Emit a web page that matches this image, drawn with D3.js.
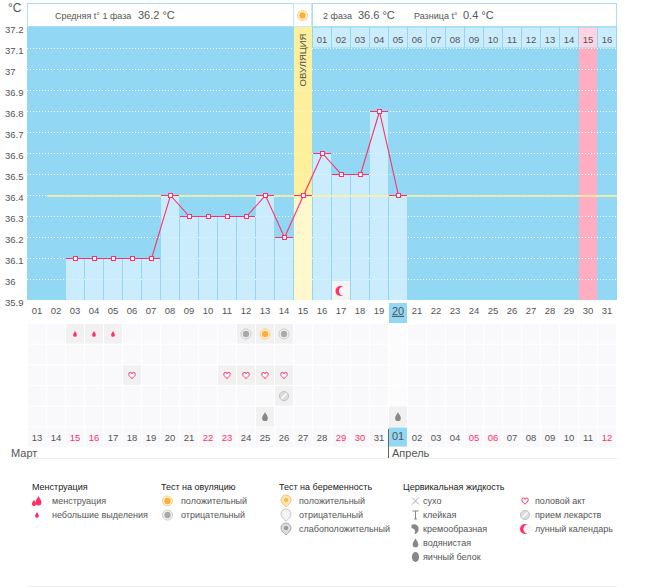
<!DOCTYPE html>
<html>
<head>
<meta charset="utf-8">
<script src="https://cdn.jsdelivr.net/npm/d3@7"></script>
<style>
html, body { margin: 0; padding: 0; background: #fff; }
svg { display: block; }
text { font-family: "Liberation Sans", sans-serif; fill: #555; }
</style>
</head>
<body>
<svg id="chart" width="655" height="587"></svg>
<script>
// values
const cycleDays = d3.range(1, 32).map(d => String(d).padStart(2, "0"));
const calendarDates = ["13","14","15","16","17","18","19","20","21","22","23","24","25","26","27","28","29","30","31","01","02","03","04","05","06","07","08","09","10","11","12"];
const weekendDates = [2, 3, 9, 10, 16, 17, 23, 24, 30];
const topDays = ["01","02","03","04","05","06","07","08","09","10","11","12","13","14","15","16"];
const tempDays = [3,4,5,6,7,8,9,10,11,12,13,14,15,16,17,18,19,20];
const temps = [36.1,36.1,36.1,36.1,36.1,36.4,36.3,36.3,36.3,36.3,36.4,36.2,36.4,36.6,36.5,36.5,36.8,36.4];
const yTicks = [37.2,37.1,37,36.9,36.8,36.7,36.6,36.5,36.4,36.3,36.2,36.1,36,35.9];
const coverLine = 36.4;
const ovulationDay = 15;
const nextPeriodDay = 30;
const todayDay = 20;
const moonDay = 17;
const symptoms = [
  [0, 3, "spot"], [0, 4, "spot"], [0, 5, "spot"],
  [0, 12, "ovuNeg"], [0, 13, "ovuPos"], [0, 14, "ovuNeg"],
  [2, 6, "heart"], [2, 11, "heart"], [2, 12, "heart"], [2, 13, "heart"], [2, 14, "heart"],
  [3, 14, "pill"],
  [4, 13, "water"], [4, 20, "water"]
];
const legendGroups = [
  { title: "Менструация", x: 32, textX: 52, iconX: 37, items: [["менструация", "flow"], ["небольшие выделения", "spot"]] },
  { title: "Тест на овуляцию", x: 161, textX: 181, iconX: 167.5, items: [["положительный", "ovuPos"], ["отрицательный", "ovuNeg"]] },
  { title: "Тест на беременность", x: 279, textX: 299, iconX: 286, items: [["положительный", "pregPos"], ["отрицательный", "pregNeg"], ["слабоположительный", "pregWeak"]] },
  { title: "Цервикальная жидкость", x: 403, textX: 423, iconX: 415.5, items: [["сухо", "dry"], ["клейкая", "sticky"], ["кремообразная", "creamy"], ["водянистая", "water"], ["яичный белок", "egg"]] },
  { title: "", x: 0, textX: 535, iconX: 525, items: [["половой акт", "heart"], ["прием лекарств", "pill"], ["лунный календарь", "moon"]] }
];

const svg = d3.select("#chart");
const skyBlue = "#92d8f5", paleBlue = "#cbecfd", pink = "#ff3068";

const x = d3.scaleBand().domain(cycleDays.map(Number)).range([28, 616]).paddingInner(1 / 19).paddingOuter(0);
const y = d3.scaleLinear().domain([35.9, 37.2]).range([300, 27]);
const rowY = d3.scaleLinear().domain([0, 5]).range([324, 427.5]);
const bw = x.bandwidth();
const cx = d => x(d) + bw / 2;
const py = d => Math.round(y(d));

// plot background
svg.append("rect").attr("x", 27).attr("y", y(37.2)).attr("width", 590).attr("height", y(35.9) - y(37.2)).attr("fill", skyBlue);
svg.append("rect").attr("x", x(nextPeriodDay)).attr("y", y(37.1)).attr("width", bw).attr("height", y(35.9) - y(37.1)).attr("fill", "#ffaec2");

// dotted grid
const grid = svg.append("g").attr("stroke", "#fff").attr("stroke-dasharray", "1,2");
grid.selectAll("line").data(yTicks.slice(1)).enter().append("line")
  .attr("x1", 27).attr("x2", 617).attr("y1", d => py(d) + 0.5).attr("y2", d => py(d) + 0.5);

// day bars
svg.append("g").selectAll("rect").data(tempDays).enter().append("rect")
  .attr("x", d => x(d)).attr("width", bw)
  .attr("y", (d, i) => y(temps[i])).attr("height", (d, i) => y(35.9) - y(temps[i]))
  .attr("fill", d => d === ovulationDay ? "#fff8cf" : paleBlue);
svg.append("rect").attr("x", x(ovulationDay)).attr("y", y(37.2)).attr("width", bw).attr("height", y(coverLine) - y(37.2)).attr("fill", "#fdef9b");

// faint grid over bars
const gridOver = svg.append("g").attr("stroke", "#fff").attr("stroke-opacity", 0.45).attr("stroke-dasharray", "1,2");
gridOver.selectAll("line").data(yTicks.slice(1)).enter().append("line")
  .attr("x1", x(3)).attr("x2", x(20) + bw).attr("y1", d => py(d) + 0.5).attr("y2", d => py(d) + 0.5);

// header strip
svg.append("rect").attr("x", 27.5).attr("y", 3.5).attr("width", 266).attr("height", 23).attr("fill", "#fff").attr("stroke", "#a9def5");
svg.append("rect").attr("x", 293.5).attr("y", 3.5).attr("width", 18).attr("height", 23).attr("fill", "#fff").attr("stroke", "#c6eafa");
svg.append("rect").attr("x", 312.5).attr("y", 3.5).attr("width", 304).attr("height", 23).attr("fill", "#fff").attr("stroke", "#a9def5");

const headerText = [
  [55, 9, "Средняя t° 1 фаза"], [138, 11, "36.2 °C"],
  [323, 9, "2 фаза"], [358, 11, "36.6 °C"],
  [414, 9, "Разница t°"], [463, 11, "0.4 °C"]
];
svg.append("g").selectAll("text").data(headerText).enter().append("text")
  .attr("x", d => d[0]).attr("y", 19).attr("font-size", d => d[1]).text(d => d[2]);
svg.append("text").attr("x", 8).attr("y", 12).attr("font-size", 12).text("°C");

// top day numbers
const topCol = i => 16 + i;
svg.append("g").selectAll("rect").data(topDays).enter().append("rect")
  .attr("x", (d, i) => x(topCol(i))).attr("y", 27.5).attr("width", bw).attr("height", 20)
  .attr("fill", (d, i) => topCol(i) === nextPeriodDay ? "#ffd3df" : paleBlue);
svg.append("g").selectAll("text").data(topDays).enter().append("text")
  .attr("x", (d, i) => cx(topCol(i))).attr("y", 43).attr("text-anchor", "middle").attr("font-size", 9.5).text(d => d);

svg.append("text").attr("transform", `translate(${cx(ovulationDay) + 2.5},60) rotate(-90)`)
  .attr("text-anchor", "middle").attr("font-size", 9.5).text("ОВУЛЯЦИЯ");

// cover line and temperature curve
svg.append("line").attr("x1", 47).attr("x2", 617).attr("y1", y(coverLine) + 1).attr("y2", y(coverLine) + 1).attr("stroke", "#fff29a").attr("stroke-width", 1.5);
const curve = svg.append("g");
const line = d3.line().x((d, i) => cx(tempDays[i]) + 0.5).y(d => py(d) + 0.5);
curve.append("path").attr("d", line(temps)).attr("fill", "none").attr("stroke", pink).attr("stroke-width", 1.1);
curve.selectAll("line").data(temps).enter().append("line")
  .attr("x1", (d, i) => x(tempDays[i])).attr("x2", (d, i) => x(tempDays[i]) + bw)
  .attr("y1", d => py(d) + 0.5).attr("y2", d => py(d) + 0.5).attr("stroke", pink);
curve.selectAll("rect").data(temps).enter().append("rect")
  .attr("x", (d, i) => cx(tempDays[i]) - 1.5).attr("y", d => py(d) - 1.5).attr("width", 4).attr("height", 4)
  .attr("fill", "#fff").attr("stroke", pink);

// y axis
const yAxis = d3.axisLeft(y).tickValues(yTicks).tickSize(0).tickFormat(d => String(d));
const yG = svg.append("g").call(yAxis);
yG.select(".domain").remove();
yG.selectAll("text").attr("x", 5).attr("dy", "0.32em").attr("y", 2.5).attr("text-anchor", "start").attr("font-size", 9.5);

// x labels under the plot
svg.append("rect").attr("x", x(todayDay)).attr("y", 303).attr("width", bw).attr("height", 20).attr("fill", skyBlue);
const xAxis = d3.axisBottom(x).tickSize(0).tickFormat(d => String(d).padStart(2, "0"));
const xG = svg.append("g").attr("transform", "translate(0,303)").call(xAxis);
xG.select(".domain").remove();
xG.selectAll("text").attr("y", 4).attr("dy", "0.71em").attr("font-size", d => d === todayDay ? 11 : 9.5)
  .attr("text-decoration", d => d === todayDay ? "underline" : null);

// symptom table
const tiles = svg.append("g");
d3.range(6).forEach(r => {
  tiles.selectAll(null).data(cycleDays.map(Number)).enter().append("rect")
    .attr("x", d => x(d)).attr("y", rowY(r)).attr("width", bw).attr("height", 19.5).attr("fill", "#f9f8fa");
});
tiles.selectAll(null).data(symptoms).enter().append("rect")
  .attr("x", d => x(d[1])).attr("y", d => rowY(d[0])).attr("width", bw).attr("height", 19.5).attr("fill", "#f1f1f1");
svg.append("rect").attr("x", x(todayDay)).attr("y", rowY(5)).attr("width", bw).attr("height", 19).attr("fill", skyBlue);
d3.range(5).forEach(r => {
  svg.append("rect").attr("x", x(todayDay)).attr("y", rowY(r)).attr("width", bw).attr("height", 19.5)
    .attr("fill", symptoms.some(s => s[0] === r && s[1] === todayDay) ? "#f1f1f1" : "#fcfcfd");
});

// bottom calendar dates
svg.append("g").selectAll("text").data(calendarDates).enter().append("text")
  .attr("x", (d, i) => cx(i + 1)).attr("y", (d, i) => i + 1 === todayDay ? 440 : 441).attr("text-anchor", "middle")
  .attr("font-size", (d, i) => i + 1 === todayDay ? 11 : 9.5)
  .style("fill", (d, i) => weekendDates.includes(i) ? pink : "#555")
  .text(d => d);
svg.append("line").attr("x1", 27).attr("x2", 617).attr("y1", 458.5).attr("y2", 458.5).attr("stroke", "#eee");
svg.append("line").attr("x1", 388.5).attr("x2", 388.5).attr("y1", 429).attr("y2", 458).attr("stroke", "#666");
svg.append("text").attr("x", 11).attr("y", 457).attr("font-size", 11).text("Март");
svg.append("text").attr("x", 392).attr("y", 457).attr("font-size", 11).text("Апрель");
svg.append("line").attr("x1", 27).attr("x2", 617).attr("y1", 586.5).attr("y2", 586.5).attr("stroke", "#eee");

// icon glyphs, drawn centred on (0,0)
const dropPath = (s) => `M0,${-5 * s}C${1 * s},${-2.5 * s} ${3 * s},${-1 * s} ${3 * s},${1.5 * s}A${3 * s},${3 * s} 0 0 1 ${-3 * s},${1.5 * s}C${-3 * s},${-1 * s} ${-1 * s},${-2.5 * s} 0,${-5 * s}Z`;
const shield = "M-5,-1A5,5 0 1 1 5,-1C5,2 2,4 0,6C-2,4 -5,2 -5,-1Z";
const icons = {
  spot: g => g.append("path").attr("d", dropPath(0.62)).attr("fill", pink),
  flow: g => {
    g.append("path").attr("d", dropPath(1)).attr("fill", pink).attr("transform", "translate(1.5,0)");
    g.append("path").attr("d", dropPath(0.7)).attr("fill", pink).attr("transform", "translate(-3,2)");
  },
  ovuPos: g => {
    g.append("circle").attr("r", 5).attr("fill", "#fff3d6").attr("stroke", "#fbd27e");
    g.append("circle").attr("r", 3.2).attr("fill", "#fbb13d");
  },
  ovuNeg: g => {
    g.append("circle").attr("r", 5).attr("fill", "#f5f5f5").attr("stroke", "#ccc");
    g.append("circle").attr("r", 3.2).attr("fill", "#aaa");
  },
  pregPos: g => {
    g.append("path").attr("d", shield).attr("fill", "#fde5b8").attr("stroke", "#f3c26c");
    g.append("circle").attr("r", 2).attr("cy", -1).attr("fill", "#f9b342");
  },
  pregNeg: g => g.append("path").attr("d", shield).attr("fill", "#f3f3f3").attr("stroke", "#c8c8c8"),
  pregWeak: g => {
    g.append("path").attr("d", shield).attr("fill", "#ddd").attr("stroke", "#aaa");
    g.append("circle").attr("r", 2.2).attr("cy", -1).attr("fill", "#999");
  },
  dry: g => g.append("path").attr("d", "M-3.5,-3.5L3.5,3.5M3.5,-3.5L-3.5,3.5").attr("stroke", "#999").attr("fill", "none").attr("stroke-width", 0.8),
  sticky: g => g.append("path").attr("d", "M-3,-4H3M-1.5,4H1.5M0,-4V4").attr("stroke", "#888").attr("fill", "none"),
  creamy: g => g.append("path").attr("d", "M-4,-4C0,-6 4,-3 3,1C3,3 1,5 -1,5C0,2 0,0 -4,-1Z").attr("fill", "#888"),
  water: g => g.append("path").attr("d", dropPath(0.95)).attr("fill", "#888"),
  egg: g => g.append("ellipse").attr("rx", 3.6).attr("ry", 5).attr("fill", "#888"),
  heart: g => g.append("path").attr("d", "M0,3.2C-1.6,1.7 -3.2,0.5 -3.2,-1.2A1.6,1.6 0 0 1 0,-1.6A1.6,1.6 0 0 1 3.2,-1.2C3.2,0.5 1.6,1.7 0,3.2Z").attr("fill", "#fff").attr("stroke", pink).attr("stroke-width", 1),
  pill: g => {
    g.append("circle").attr("r", 4.6).attr("fill", "#dcdcdc").attr("stroke", "#c4c4c4");
    g.append("line").attr("x1", -2.6).attr("y1", 2.6).attr("x2", 2.6).attr("y2", -2.6).attr("stroke", "#fff").attr("stroke-width", 1.4);
  },
  moon: g => {
    g.append("circle").attr("r", 5).attr("fill", pink);
    g.append("circle").attr("r", 4.6).attr("cx", 3).attr("fill", "#f6f6f6");
  }
};
const drawIcon = (type, px, cy) => { icons[type](svg.append("g").attr("transform", `translate(${px},${cy})`)); };

symptoms.forEach(s => drawIcon(s[2], cx(s[1]), rowY(s[0]) + 10));
drawIcon("ovuPos", cx(ovulationDay) - 0.5, 15.5);

// moon tile inside the plot
svg.append("rect").attr("x", x(moonDay)).attr("y", 281).attr("width", bw).attr("height", 19).attr("fill", "#f4f4f4");
drawIcon("moon", cx(moonDay) - 0.5, 291);

// legend
legendGroups.forEach(g => {
  if (g.title) svg.append("text").attr("x", g.x).attr("y", 490).attr("font-size", 9).style("fill", "#222").text(g.title);
  g.items.forEach((it, i) => {
    const cy = 501 + i * 14;
    drawIcon(it[1], g.iconX, cy);
    svg.append("text").attr("x", g.textX).attr("y", cy + 3).attr("font-size", 9).text(it[0]);
  });
});
</script>
</body>
</html>
